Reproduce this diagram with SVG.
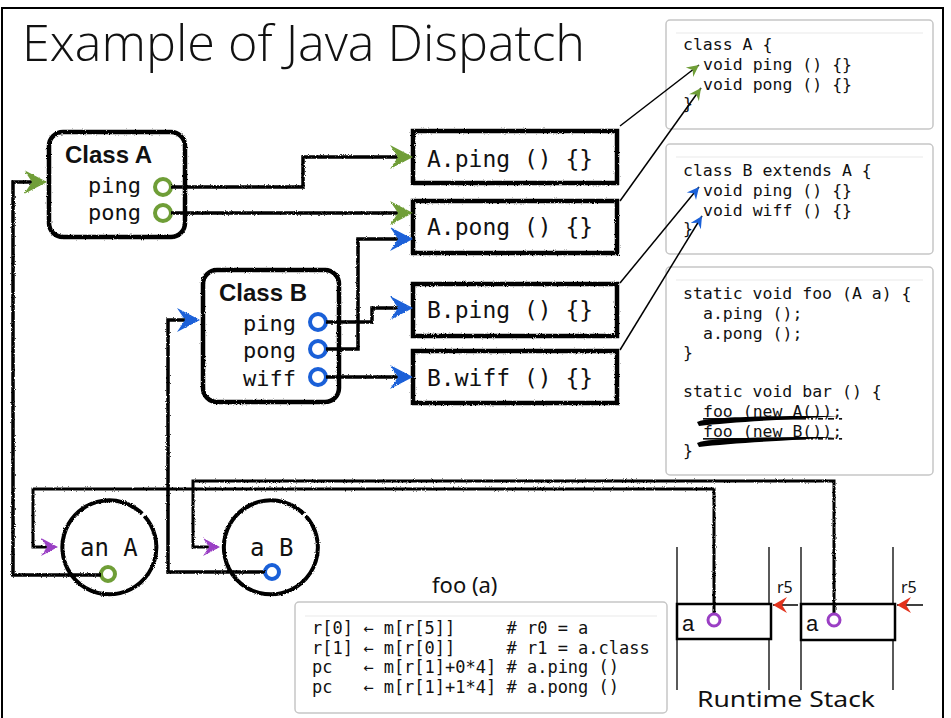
<svg xmlns="http://www.w3.org/2000/svg" width="951" height="718" viewBox="0 0 951 718">
<style>
.mono{font-family:"DejaVu Sans Mono",monospace;fill:#111}
.code{font-family:"DejaVu Sans Mono",monospace;font-size:16.5px;fill:#111}
.asm{font-family:"DejaVu Sans Mono",monospace;font-size:17px;fill:#111}
.codebox{fill:#fff;stroke:#c6c6c6;stroke-width:1.5}
.faint{stroke:#f0f0f0;stroke-width:1.5}
.box{fill:#fff;stroke:#000;stroke-width:4.5}
.wire{fill:none;stroke:#000;stroke-width:3.5}
.thin{fill:none;stroke:#000;stroke-width:1.5}
.hand{font-family:"Noto Sans","DejaVu Sans",sans-serif;fill:#111}
.pg{fill:#fff;stroke:#6f9e37;stroke-width:4}
.pb{fill:#fff;stroke:#1a60d8;stroke-width:4}
.pp{fill:#fff;stroke:#9a3fc4;stroke-width:3}
</style>
<defs>
<filter id="rough" filterUnits="userSpaceOnUse" x="0" y="0" width="951" height="718">
<feTurbulence type="fractalNoise" baseFrequency="1.1" numOctaves="2" seed="4" result="n"/>
<feDisplacementMap in="SourceGraphic" in2="n" scale="2.6" xChannelSelector="R" yChannelSelector="G"/>
</filter>
<marker id="ag" viewBox="-26 -14 28 28" refX="-8" refY="0" markerWidth="28" markerHeight="28" markerUnits="userSpaceOnUse" orient="auto">
<path d="M0,0 L-23,-12 L-15,0 L-23,12 Z" fill="#6f9e37"/>
</marker>
<marker id="ab" viewBox="-26 -14 28 28" refX="-8" refY="0" markerWidth="28" markerHeight="28" markerUnits="userSpaceOnUse" orient="auto">
<path d="M0,0 L-23,-12 L-15,0 L-23,12 Z" fill="#1a60d8"/>
</marker>
<marker id="ap" viewBox="-20 -11 22 22" refX="-8" refY="0" markerWidth="22" markerHeight="22" markerUnits="userSpaceOnUse" orient="auto">
<path d="M0,0 L-17,-9 L-11,0 L-17,9 Z" fill="#9a3fc4"/>
</marker>
<marker id="sg" viewBox="-14 -8 16 16" refX="0" refY="0" markerWidth="16" markerHeight="16" markerUnits="userSpaceOnUse" orient="auto">
<path d="M0,0 L-12,-6 L-8,0 L-12,6 Z" fill="#6f9e37"/>
</marker>
<marker id="sb" viewBox="-14 -8 16 16" refX="0" refY="0" markerWidth="16" markerHeight="16" markerUnits="userSpaceOnUse" orient="auto">
<path d="M0,0 L-12,-6 L-8,0 L-12,6 Z" fill="#1a60d8"/>
</marker>
<marker id="ar" viewBox="-16 -10 18 20" refX="0" refY="0" markerWidth="18" markerHeight="20" markerUnits="userSpaceOnUse" orient="auto">
<path d="M0,0 L-14,-8 L-9,0 L-14,8 Z" fill="#e2321c"/>
</marker>
</defs>
<rect width="951" height="718" fill="#fff"/>
<rect x="2" y="8" width="941" height="730" fill="none" stroke="#000" stroke-width="2"/>

<g id="title">
<text x="22" y="61" font-family="'Open Sans','Liberation Sans',sans-serif" font-weight="300" font-size="50" textLength="563" lengthAdjust="spacingAndGlyphs" fill="#111">Example of Java Dispatch</text>
</g>

<g id="codeA">
<rect class="codebox" x="666" y="20" width="267" height="109" rx="4"/>
<line class="faint" x1="676" y1="33" x2="923" y2="33"/>
<text class="code" x="683" y="50">class A {</text>
<text class="code" x="703" y="70">void ping () {}</text>
<text class="code" x="703" y="90">void pong () {}</text>
<text class="code" x="683" y="109">}</text>
</g>
<g id="codeB">
<rect class="codebox" x="666" y="144" width="267" height="110" rx="4"/>
<line class="faint" x1="676" y1="157" x2="923" y2="157"/>
<text class="code" x="683" y="176">class B extends A {</text>
<text class="code" x="703" y="196">void ping () {}</text>
<text class="code" x="703" y="216">void wiff () {}</text>
<text class="code" x="683" y="234">}</text>
</g>
<g id="codeFoo">
<rect class="codebox" x="666" y="267" width="267" height="208" rx="4"/>
<line class="faint" x1="676" y1="280" x2="923" y2="280"/>
<text class="code" x="683" y="299">static void foo (A a) {</text>
<text class="code" x="703" y="319">a.ping ();</text>
<text class="code" x="703" y="339">a.pong ();</text>
<text class="code" x="683" y="358">}</text>
<text class="code" x="683" y="397">static void bar () {</text>
<text class="code" x="703" y="417" text-decoration="underline">foo (new A());</text>
<text class="code" x="703" y="437" text-decoration="underline">foo (new B());</text>
<text class="code" x="683" y="456">}</text>
<path d="M697,422 C708,416 780,416 839,416 C790,419.5 730,422 699,426 Z" fill="#000"/>
<path d="M697,443 C708,437 780,437 837,437 C790,440.5 730,443 699,447 Z" fill="#000"/>
</g>

<g id="classA">
<rect class="box" x="49" y="132" width="136" height="105" rx="14" filter="url(#rough)"/>
<text x="65" y="163" font-family="'Liberation Sans',Arial,sans-serif" font-weight="bold" font-size="24" fill="#111">Class A</text>
<text class="mono" x="141" y="193" font-size="22" text-anchor="end">ping</text>
<text class="mono" x="141" y="220" font-size="22" text-anchor="end">pong</text>
<circle class="pg" cx="163" cy="187" r="8"/>
<circle class="pg" cx="163" cy="213" r="8"/>
</g>
<g id="classB">
<rect class="box" x="203" y="270" width="136" height="132" rx="14" filter="url(#rough)"/>
<text x="219" y="301" font-family="'Liberation Sans',Arial,sans-serif" font-weight="bold" font-size="24" fill="#111">Class B</text>
<text class="mono" x="296" y="331" font-size="22" text-anchor="end">ping</text>
<text class="mono" x="296" y="358" font-size="22" text-anchor="end">pong</text>
<text class="mono" x="296" y="386" font-size="22" text-anchor="end">wiff</text>
<circle class="pb" cx="318" cy="322" r="8"/>
<circle class="pb" cx="318" cy="349" r="8"/>
<circle class="pb" cx="318" cy="377" r="8"/>
</g>

<g id="Aping">
<rect class="box" x="413" y="131" width="204" height="52" filter="url(#rough)"/>
<text class="mono" x="427" y="167" font-size="23">A.ping () {}</text>
</g>
<g id="Apong">
<rect class="box" x="413" y="201" width="204" height="52" filter="url(#rough)"/>
<text class="mono" x="427" y="235" font-size="23">A.pong () {}</text>
</g>
<g id="Bping">
<rect class="box" x="413" y="284" width="204" height="52" filter="url(#rough)"/>
<text class="mono" x="427" y="318" font-size="23">B.ping () {}</text>
</g>
<g id="Bwiff">
<rect class="box" x="413" y="351" width="204" height="52" filter="url(#rough)"/>
<text class="mono" x="427" y="386" font-size="23">B.wiff () {}</text>
</g>

<g id="anA">
<path d="M144.4,516 A47,47 0 1 1 142.2,513.7" fill="none" stroke="#000" stroke-width="4" filter="url(#rough)"/>
<text class="mono" x="80" y="556" font-size="24">an A</text>
<circle class="pg" cx="108" cy="574" r="7"/>
</g>
<g id="aB">
<path d="M305.9,516 A47,47 0 1 1 303.7,513.7" fill="none" stroke="#000" stroke-width="4" filter="url(#rough)"/>
<text class="mono" x="250" y="556" font-size="24">a B</text>
<circle class="pb" cx="272" cy="572" r="7"/>
</g>

<g id="fooAsm">
<text class="hand" x="432" y="593" font-size="22">foo (a)</text>
<rect class="codebox" x="295" y="602" width="372" height="111" rx="4"/>
<line class="faint" x1="305" y1="616" x2="657" y2="616"/>
<text class="asm" x="312" y="634" xml:space="preserve">r[0] ← m[r[5]]     # r0 = a</text>
<text class="asm" x="312" y="654" xml:space="preserve">r[1] ← m[r[0]]     # r1 = a.class</text>
<text class="asm" x="312" y="673" xml:space="preserve">pc   ← m[r[1]+0*4] # a.ping ()</text>
<text class="asm" x="312" y="693" xml:space="preserve">pc   ← m[r[1]+1*4] # a.pong ()</text>
</g>

<g id="stack">
<g stroke="#000" stroke-width="1.3">
<line x1="677" y1="547" x2="677" y2="690"/>
<line x1="769" y1="547" x2="769" y2="690"/>
<line x1="801" y1="547" x2="801" y2="690"/>
<line x1="893" y1="547" x2="893" y2="690"/>
</g>
<rect x="677" y="604" width="94" height="35" fill="#fff" stroke="#000" stroke-width="2.5"/>
<rect x="801" y="604" width="94" height="36" fill="#fff" stroke="#000" stroke-width="2.5"/>
<text x="682" y="631" font-family="'Liberation Sans',Arial,sans-serif" font-size="22" fill="#111">a</text>
<text x="806" y="631" font-family="'Liberation Sans',Arial,sans-serif" font-size="22" fill="#111">a</text>
<text class="hand" x="777" y="593" font-size="16">r5</text>
<text class="hand" x="901" y="593" font-size="16">r5</text>
<text class="hand" x="697" y="707" font-size="22" textLength="178" lengthAdjust="spacingAndGlyphs">Runtime Stack</text>
</g>

<g id="connectors">
<g filter="url(#rough)">
<path class="wire" d="M171,187 H303 V157 H405" marker-end="url(#ag)"/>
<path class="wire" d="M171,213 H405" marker-end="url(#ag)"/>
<path class="wire" d="M326,322 H372 V308 H405" marker-end="url(#ab)"/>
<path class="wire" d="M326,349 H358 V239 H405" marker-end="url(#ab)"/>
<path class="wire" d="M326,377 H405" marker-end="url(#ab)"/>
<path class="wire" d="M101,575 H13 V182 H39" marker-end="url(#ag)"/>
<path class="wire" d="M265,572 H168 V320 H192" marker-end="url(#ab)"/>
<path class="wire" style="stroke-width:3" d="M714,614 V489 H33 V547 H50" marker-end="url(#ap)"/>
<path class="wire" style="stroke-width:3" d="M834,614 V481 H193 V547 H212" marker-end="url(#ap)"/>
</g>
<path class="thin" d="M620,126 L699,65" marker-end="url(#sg)"/>
<path class="thin" d="M620,201 L701,88" marker-end="url(#sg)"/>
<path class="thin" d="M620,283 L699,187" marker-end="url(#sb)"/>
<path class="thin" d="M620,350 L702,216" marker-end="url(#sb)"/>
<path class="thin" d="M798,605 H773" marker-end="url(#ar)"/>
<path class="thin" d="M923,605 H897" marker-end="url(#ar)"/>
</g>
<circle class="pp" cx="714" cy="620" r="6"/>
<circle class="pp" cx="834" cy="620" r="6"/>
</svg>
